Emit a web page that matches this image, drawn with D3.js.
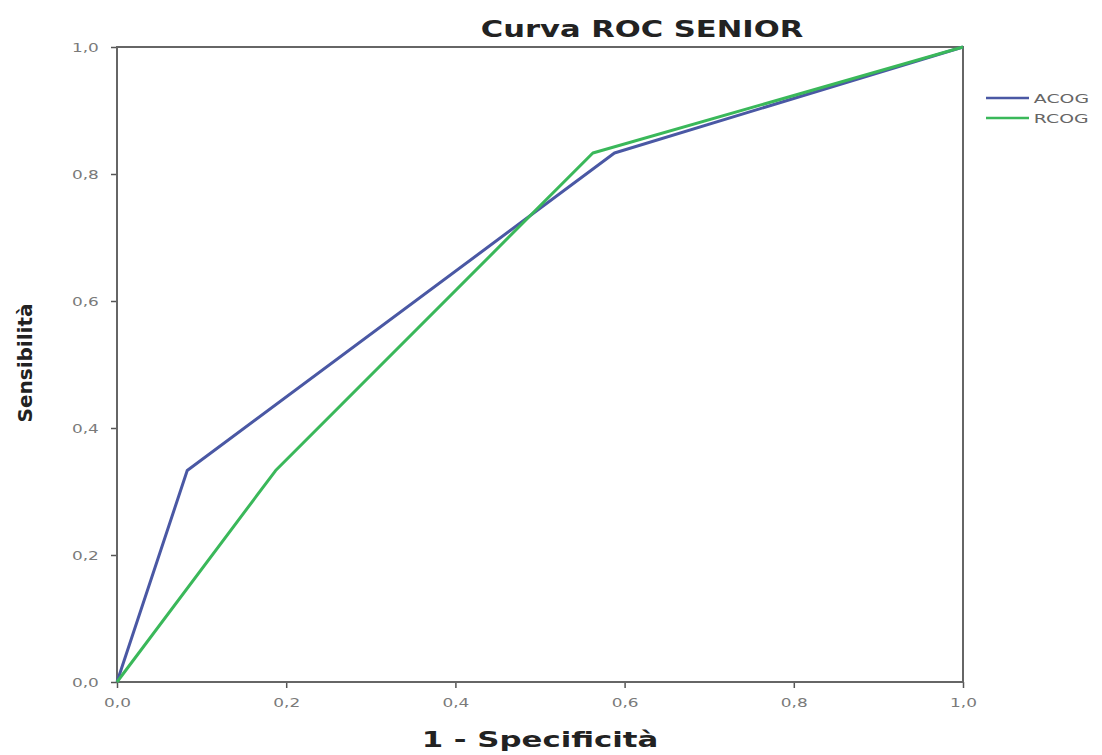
<!DOCTYPE html>
<html>
<head>
  <meta charset="utf-8">
  <title>Curva ROC SENIOR</title>
  <style>
    body { margin: 0; background: #fff; }
    text { font-family: "DejaVu Sans", sans-serif; }
    .tick text { fill: #7a7a7a; font-size: 13px; }
    .tick line { stroke: #555; stroke-width: 1.5; }
    .domain { stroke: none; }
  </style>
</head>
<body>
  <svg></svg>
  <script src="https://cdnjs.cloudflare.com/ajax/libs/d3/7.8.5/d3.min.js"></script>
  <script>
    var width = 1102,
      height = 755;

    // ROC points
    var acogX = [0, 0.083, 0.588, 1];
    var acogY = [0, 0.333, 0.833, 1];
    var rcogX = [0, 0.1875, 0.5625, 1];
    var rcogY = [0, 0.333, 0.833, 1];
    var seriesNames = ["ACOG", "RCOG"];
    var seriesColors = ["#4a58a4", "#3ab85a"];
    var tickValues = [0, 0.2, 0.4, 0.6, 0.8, 1.0];

    var plotLeft = 117, plotRight = 963, plotTop = 47, plotBottom = 682;
    var stretch = 1.3; // the picture is wider than its text

    var svg = d3.select("svg").attr("width", width).attr("height", height);

    var x = d3.scaleLinear().domain([0, 1]).range([plotLeft, plotRight]);
    var y = d3.scaleLinear().domain([0, 1]).range([plotBottom, plotTop]);
    var fmt = function (d) { return d3.format(".1f")(d).replace(".", ","); };

    svg.append("g")
      .attr("class", "axis")
      .attr("transform", "translate(0," + plotBottom + ")")
      .call(d3.axisBottom(x).tickValues(tickValues).tickFormat(fmt).tickSize(6).tickPadding(10))
      .selectAll(".tick text").attr("transform", "scale(" + stretch + ",1)");

    svg.append("g")
      .attr("class", "axis")
      .attr("transform", "translate(" + plotLeft + ",0)")
      .call(d3.axisLeft(y).tickValues(tickValues).tickFormat(fmt).tickSize(6).tickPadding(8))
      .selectAll(".tick text").attr("transform", "scale(" + stretch + ",1)");

    // frame
    svg.append("rect")
      .attr("x", plotLeft).attr("y", plotTop)
      .attr("width", plotRight - plotLeft).attr("height", plotBottom - plotTop)
      .attr("fill", "none").attr("stroke", "#666").attr("stroke-width", 2);

    var line = d3.line().x(function (d) { return x(d[0]); }).y(function (d) { return y(d[1]); });
    var series = [d3.zip(acogX, acogY), d3.zip(rcogX, rcogY)];

    svg.selectAll("path.roc").data(series)
      .enter()
      .append("path")
      .attr("class", "roc")
      .attr("d", line)
      .attr("fill", "none")
      .attr("stroke", function (d, i) { return seriesColors[i]; })
      .attr("stroke-width", 3)
      .attr("stroke-linejoin", "round");

    // title and axis labels
    function label(cx, cy, size, txt, sx) {
      svg.append("g")
        .attr("transform", "translate(" + cx + "," + cy + ") scale(" + sx + ",1)")
        .append("text")
        .attr("text-anchor", "middle")
        .attr("font-size", size + "px").attr("font-weight", "bold").attr("fill", "#222")
        .text(txt);
    }
    label(642, 37, 23, "Curva ROC SENIOR", 1.33);
    label(540, 747, 22, "1 - Specificità", 1.4);

    svg.append("text")
      .attr("transform", "translate(32,363) rotate(-90)")
      .attr("text-anchor", "middle")
      .attr("font-size", "20px").attr("font-weight", "bold").attr("fill", "#222")
      .text("Sensibilità");

    // legend
    var legend = svg.selectAll("g.legend").data(seriesNames)
      .enter()
      .append("g")
      .attr("class", "legend")
      .attr("transform", function (d, i) { return "translate(986," + (98 + i * 20) + ")"; });

    legend.append("line")
      .attr("x1", 0).attr("x2", 43)
      .attr("stroke", function (d, i) { return seriesColors[i]; })
      .attr("stroke-width", 2.5);

    legend.append("text")
      .attr("x", 33).attr("y", 5)
      .attr("transform", "scale(1.45,1)")
      .attr("font-size", "13px").attr("fill", "#666")
      .text(function (d) { return d; });
  </script>
</body>
</html>
